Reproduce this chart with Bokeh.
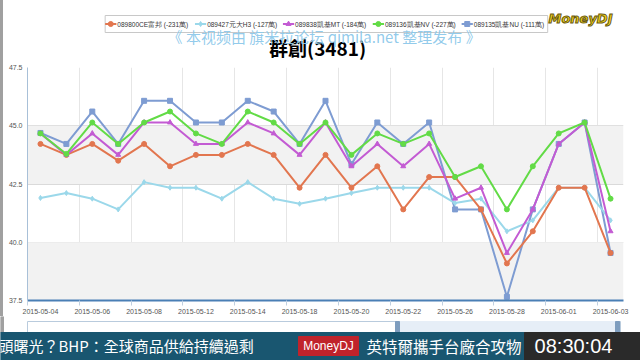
from bokeh.plotting import figure
from bokeh.layouts import column, row
from bokeh.models import FixedTicker, Label, BoxAnnotation, Range1d, Div
from bokeh.embed import file_html
from bokeh.resources import INLINE

dates = ["2015-05-04", "2015-05-05", "2015-05-06", "2015-05-07", "2015-05-08",
         "2015-05-11", "2015-05-12", "2015-05-13", "2015-05-14", "2015-05-15",
         "2015-05-18", "2015-05-19", "2015-05-20", "2015-05-21", "2015-05-22",
         "2015-05-25", "2015-05-26", "2015-05-27", "2015-05-28", "2015-05-29",
         "2015-06-01", "2015-06-02", "2015-06-03"]

y_ticks = [37.5, 40.0, 42.5, 45.0, 47.5]

names = ["089800CE富邦 (-231萬)", "089427元大H3 (-127萬)", "089838凱基MT (-184萬)",
         "089136凱基NV (-227萬)", "089135凱基NU (-111萬)"]

s_orange = [44.22, 43.75, 44.22, 43.50, 44.22, 43.26, 43.75, 43.75, 44.22, 43.75, 42.34, 43.75,
            42.34, 43.26, 41.41, 42.80, 42.80, 41.41, 39.09, 40.47, 42.34, 42.34, 39.54]
s_lightblue = [41.90, 42.11, 41.87, 41.41, 42.58, 42.34, 42.34, 41.87, 42.58, 41.87, 41.65, 41.87,
               42.11, 42.34, 42.34, 42.34, 41.68, 41.87, 40.47, 40.94, 42.34, 42.34, 40.94]
s_purple = [44.67, 43.75, 44.67, 43.75, 45.14, 45.14, 44.22, 44.22, 45.14, 44.67, 43.75, 45.14,
            43.26, 44.22, 43.26, 44.22, 41.87, 42.34, 39.54, 41.41, 44.22, 45.14, 40.47]
s_green = [44.67, 43.79, 45.14, 44.22, 45.14, 45.61, 44.67, 44.22, 45.61, 45.14, 44.22, 45.14,
           43.75, 44.67, 44.22, 44.67, 42.80, 43.26, 41.41, 43.26, 44.67, 45.14, 41.87]
s_blue = [44.69, 44.22, 45.61, 44.22, 46.07, 46.07, 45.14, 45.14, 46.07, 45.61, 44.22, 46.07,
          43.35, 45.14, 44.22, 45.14, 41.41, 41.41, 37.66, 41.41, 44.22, 45.14, 39.54]

colors = ["#E2764F", "#9BD8EA", "#C35BD3", "#62DB46", "#7E9CD2"]
markers = ["circle", "diamond", "triangle", "circle", "square"]
series = [s_orange, s_lightblue, s_purple, s_green, s_blue]

xs = list(range(len(dates)))


def blank(w, h, x0, y0, y1):
    f = figure(width=w, height=h, output_backend="svg", toolbar_location=None,
               x_range=Range1d(x0, x0 + w), y_range=Range1d(y1, y0),
               min_border=0, min_border_left=0, min_border_right=0,
               min_border_top=0, min_border_bottom=0, margin=0)
    f.axis.visible = False
    f.grid.visible = False
    f.outline_line_color = None
    f.background_fill_color = "white"
    f.border_fill_color = "white"
    return f


def label(f, X, Y, text, size, color, align="left", font="Noto Sans CJK TC",
          style="normal", outline=None, alpha=1.0):
    lb = Label(x=X, y=Y, text=text, text_font_size=size, text_color=color,
               text_align=align, text_baseline="middle", text_font=font,
               text_font_style=style, text_alpha=alpha)
    if outline:
        lb.text_outline_color = outline
    f.add_layout(lb)


def box(f, l, r, t, b, color, line=None):
    f.quad(left=[l], right=[r], top=[t], bottom=[b], fill_color=color,
           line_color=line if line else color, line_width=1)


# ---------------- top strip (legend, watermark, title, logo) -------------
top = blank(637, 62, 3, 0, 62)
box(top, 86, 559, 15, 32, "white", line="#C8C8C8")
leg_x = [92, 188, 282, 378, 473]
for i in range(5):
    cx = leg_x[i]
    top.line([cx - 6, cx + 6], [23.5, 23.5], line_color=colors[i], line_width=2)
    top.scatter([cx], [23.5], marker=markers[i], size=5, fill_color=colors[i],
                line_color=colors[i])
    label(top, cx + 7, 23.5, names[i], "6.5px", "#333333", font="Liberation Sans")
label(top, 313, 47, "群創(3481)", "19px", "#000000", align="center", style="bold")
label(top, 320, 36, "《 本视频由 旗米拉论坛 qimila.net 整理发布 》", "15px", "#8CC8EA",
      align="center", font="Noto Sans CJK SC", alpha=0.95)
label(top, 594, 18, "MoneyDJ", "13px", "#F2D21A", align="center", font="DejaVu Sans",
      style="bold italic", outline="#6A5A10")

# ---------------- main chart -------------
p = figure(width=637, height=254, output_backend="svg", toolbar_location=None,
           x_range=Range1d(-0.5, len(dates) - 0.5), y_range=Range1d(37.5, 47.5),
           min_border_left=24, min_border_right=17, min_border_top=5, min_border_bottom=15,
           margin=0)
p.outline_line_color = None
p.background_fill_color = "white"
p.border_fill_color = "white"

for lo, hi in [(37.5, 40.0), (42.5, 45.0)]:
    p.add_layout(BoxAnnotation(bottom=lo, top=hi, fill_color="#F2F2F2", fill_alpha=1.0,
                               line_alpha=0, level="underlay"))

xt = FixedTicker(ticks=list(range(0, len(dates), 2)),
                 minor_ticks=[i + 0.5 for i in range(-1, len(dates), 2)])
p.xaxis.ticker = xt
p.xaxis.major_label_overrides = {i: dates[i] for i in range(0, len(dates), 2)}
p.xaxis.axis_line_color = "#4A7FB5"
p.xaxis.axis_line_width = 2
p.xaxis.major_tick_out = 0
p.xaxis.major_tick_in = 0
p.xaxis.minor_tick_out = 5
p.xaxis.minor_tick_in = 0
p.xaxis.minor_tick_line_color = "#C0D0E0"
p.xaxis.major_label_text_font = "Liberation Sans"
p.xaxis.major_label_text_font_size = "7px"
p.xaxis.major_label_text_color = "#555555"
p.xaxis.major_label_standoff = 3

p.yaxis.ticker = FixedTicker(ticks=y_ticks)
p.yaxis.major_label_overrides = {t: "%.1f" % t for t in y_ticks}
p.yaxis.axis_line_color = "#A8C0D8"
p.yaxis.major_tick_out = 0
p.yaxis.major_tick_in = 0
p.yaxis.minor_tick_out = 0
p.yaxis.minor_tick_in = 0
p.yaxis.major_label_text_font = "Liberation Sans"
p.yaxis.major_label_text_font_size = "7px"
p.yaxis.major_label_text_color = "#555555"
p.yaxis.major_label_standoff = 5

p.xgrid.grid_line_color = None
p.xgrid.minor_grid_line_color = "#E6E6E6"
p.ygrid.grid_line_color = "#DADADA"

for i in [4, 1, 0, 2, 3]:
    p.line(xs, series[i], line_color=colors[i], line_width=2)
    p.scatter(xs, series[i], marker=markers[i], size=5, fill_color=colors[i],
              line_color=colors[i])

# ---------------- bottom strip (navigator, ticker bar) -------------
bot = blank(640, 44, 0, 316, 360)
box(bot, 0, 3, 316, 332, "#A0A0A0")
box(bot, 27, 620, 321, 332, "white", line="#B9CBDD")
box(bot, 398, 617, 321, 332, "#E6EEF7")
box(bot, 395, 399, 321, 332, "#7E9DBE")
box(bot, 615, 619, 321, 332, "#7E9DBE")
box(bot, 0, 640, 332, 360, "#195670")
label(bot, -2, 345, "頭曙光？BHP：全球商品供給持續過剩", "15px", "#FFFFFF")
box(bot, 298, 358, 336, 355, "#C0232B")
label(bot, 328, 345.5, "MoneyDJ", "12px", "#FFFFFF", align="center", font="Liberation Sans")
label(bot, 366, 345, "英特爾攜手台廠合攻物", "15.5px", "#FFFFFF")
box(bot, 524, 640, 332, 360, "#2A2A2A")
label(bot, 573, 345, "08:30:04", "20px", "#FFFFFF", align="center", font="Liberation Sans")

edge = Div(width=3, height=316, margin=0, styles={"background-color": "#A0A0A0"})
layout = column(row(edge, column(top, p, spacing=0, margin=0), spacing=0, margin=0),
                bot, spacing=0, margin=0)
open("out.html", "w").write(file_html(layout, INLINE))
